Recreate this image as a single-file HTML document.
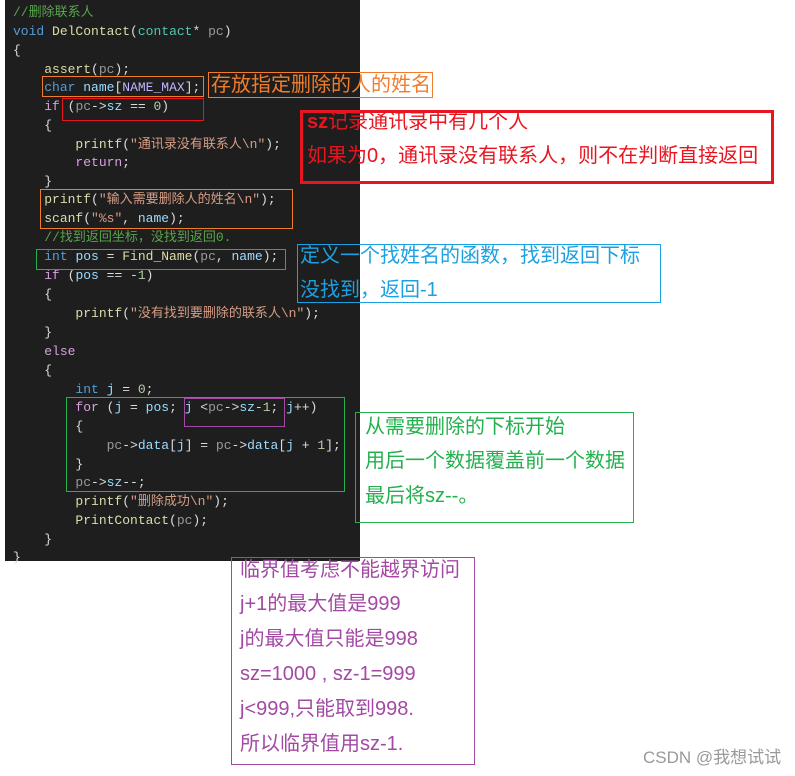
<!DOCTYPE html>
<html><head><meta charset="utf-8"><style>
body{margin:0;width:795px;height:776px;background:#fff;position:relative;overflow:hidden;font-family:"Liberation Sans","Noto Sans CJK SC",sans-serif}
#code{position:absolute;left:5px;top:0;width:355px;height:561px;background:#1e1e1e}
.l{position:absolute;left:13px;font:13px/19px "Liberation Mono","Noto Sans CJK SC",monospace;color:#dcdcdc;white-space:pre}
.k{color:#569cd6}.f{color:#dcdcaa}.p{color:#9a9a9a}.v{color:#9cdcfe}.s{color:#d69d85}.c{color:#57a64a}.n{color:#b5cea8}.t{color:#4ec9b0}.m{color:#beb7ff}.r{color:#d8a0df}
.b{position:absolute;box-sizing:border-box;border:1px solid}
.a{position:absolute;font-size:20px;line-height:24px;white-space:nowrap}
</style></head><body>
<div id="code"></div>
<div class="l" style="top:3px"><span class="c">//删除联系人</span></div>
<div class="l" style="top:22px"><span class="k">void</span> <span class="f">DelContact</span>(<span class="t">contact</span>* <span class="p">pc</span>)</div>
<div class="l" style="top:41px">{</div>
<div class="l" style="top:60px">    <span class="f">assert</span>(<span class="p">pc</span>);</div>
<div class="l" style="top:78px">    <span class="k">char</span> <span class="v">name</span>[<span class="m">NAME_MAX</span>];</div>
<div class="l" style="top:97px">    <span class="r">if</span> (<span class="p">pc</span>-><span class="v">sz</span> == <span class="n">0</span>)</div>
<div class="l" style="top:116px">    {</div>
<div class="l" style="top:135px">        <span class="f">printf</span>(<span class="s">"通讯录没有联系人\n"</span>);</div>
<div class="l" style="top:153px">        <span class="r">return</span>;</div>
<div class="l" style="top:172px">    }</div>
<div class="l" style="top:190px">    <span class="f">printf</span>(<span class="s">"输入需要删除人的姓名\n"</span>);</div>
<div class="l" style="top:209px">    <span class="f">scanf</span>(<span class="s">"%s"</span>, <span class="v">name</span>);</div>
<div class="l" style="top:228px">    <span class="c">//找到返回坐标，没找到返回0.</span></div>
<div class="l" style="top:247px">    <span class="k">int</span> <span class="v">pos</span> = <span class="f">Find_Name</span>(<span class="p">pc</span>, <span class="v">name</span>);</div>
<div class="l" style="top:266px">    <span class="r">if</span> (<span class="v">pos</span> == -<span class="n">1</span>)</div>
<div class="l" style="top:285px">    {</div>
<div class="l" style="top:304px">        <span class="f">printf</span>(<span class="s">"没有找到要删除的联系人\n"</span>);</div>
<div class="l" style="top:323px">    }</div>
<div class="l" style="top:342px">    <span class="r">else</span></div>
<div class="l" style="top:361px">    {</div>
<div class="l" style="top:380px">        <span class="k">int</span> <span class="v">j</span> = <span class="n">0</span>;</div>
<div class="l" style="top:398px">        <span class="r">for</span> (<span class="v">j</span> = <span class="v">pos</span>; <span class="v">j</span> &lt;<span class="p">pc</span>-><span class="v">sz</span>-<span class="n">1</span>; <span class="v">j</span>++)</div>
<div class="l" style="top:417px">        {</div>
<div class="l" style="top:436px">            <span class="p">pc</span>-><span class="v">data</span>[<span class="v">j</span>] = <span class="p">pc</span>-><span class="v">data</span>[<span class="v">j</span> + <span class="n">1</span>];</div>
<div class="l" style="top:455px">        }</div>
<div class="l" style="top:473px">        <span class="p">pc</span>-><span class="v">sz</span>--;</div>
<div class="l" style="top:492px">        <span class="f">printf</span>(<span class="s">"删除成功\n"</span>);</div>
<div class="l" style="top:511px">        <span class="f">PrintContact</span>(<span class="p">pc</span>);</div>
<div class="l" style="top:530px">    }</div>
<div class="l" style="top:548px">}</div>

<div class="b" style="left:42px;top:76px;width:162px;height:21px;border-color:#f07d2d"></div>
<div class="b" style="left:62px;top:98px;width:142px;height:23px;border-color:#e8141f"></div>
<div class="b" style="left:40px;top:189px;width:253px;height:40px;border-color:#f07d2d"></div>
<div class="b" style="left:36px;top:249px;width:250px;height:21px;border-color:#22b14c"></div>
<div class="b" style="left:66px;top:397px;width:279px;height:95px;border-color:#22b14c"></div>
<div class="b" style="left:184px;top:398px;width:101px;height:29px;border-color:#a349a4"></div>

<div class="b" style="left:208px;top:72px;width:225px;height:26px;border-color:#f07d2d"></div>
<div class="a" style="left:211px;top:73px;color:#f07d2d">存放指定删除的人的姓名</div>

<div class="b" style="left:300px;top:110px;width:474px;height:74px;border:3px solid #e8141f"></div>
<div class="a" style="left:307px;top:110px;color:#e8141f"><b>sz</b>记录通讯录中有几个人</div>
<div class="a" style="left:307px;top:144px;color:#e8141f">如果为0，通讯录没有联系人，则不在判断直接返回</div>

<div class="b" style="left:297px;top:244px;width:364px;height:59px;border-color:#1ba1e2"></div>
<div class="a" style="left:300px;top:244px;color:#1ba1e2">定义一个找姓名的函数，找到返回下标</div>
<div class="a" style="left:300px;top:278px;color:#1ba1e2">没找到，返回-1</div>

<div class="b" style="left:355px;top:412px;width:279px;height:111px;border-color:#22b14c"></div>
<div class="a" style="left:365px;top:415px;color:#22b14c">从需要删除的下标开始</div>
<div class="a" style="left:365px;top:449px;color:#22b14c">用后一个数据覆盖前一个数据</div>
<div class="a" style="left:365px;top:484px;color:#22b14c">最后将sz--。</div>

<div class="b" style="left:231px;top:557px;width:244px;height:208px;border-color:#a349a4"></div>
<div class="a" style="left:240px;top:558px;color:#a349a4">临界值考虑不能越界访问</div>
<div class="a" style="left:240px;top:592px;color:#a349a4">j+1的最大值是999</div>
<div class="a" style="left:240px;top:627px;color:#a349a4">j的最大值只能是998</div>
<div class="a" style="left:240px;top:662px;color:#a349a4">sz=1000 , sz-1=999</div>
<div class="a" style="left:240px;top:697px;color:#a349a4"> j&lt;999,只能取到998.</div>
<div class="a" style="left:240px;top:732px;color:#a349a4">所以临界值用sz-1.</div>

<div class="a" style="left:643px;top:746px;font-size:17px;color:#999">CSDN @我想试试</div>
</body></html>
